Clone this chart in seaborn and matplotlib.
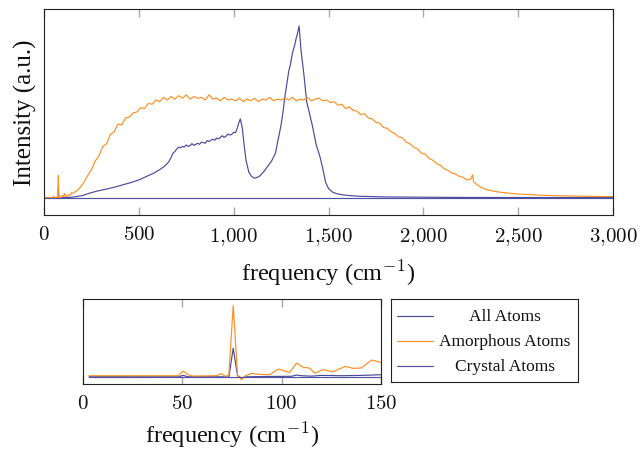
import matplotlib
matplotlib.use("Agg")
import matplotlib.pyplot as plt
from matplotlib.ticker import FixedLocator, FuncFormatter
import seaborn as sns

# ---- spectra (intensity in arbitrary units) ----
all_freq = [3, 20, 40, 48, 50.4, 53, 60, 72, 73.4, 75.6, 77.8, 79.8, 82, 90, 100, 105,
            107.5, 110, 115, 120, 130, 140, 145, 150,
            170, 200, 240, 280, 330, 380, 420, 460, 500, 540, 580, 610, 630, 640, 650,
            660, 670, 680, 690, 700, 710, 720, 730, 740, 750, 760, 770, 780, 790, 800,
            810, 820, 830, 840, 850, 860, 870, 880, 890, 900, 910, 920, 930, 940, 950,
            960, 970, 980, 990, 1000, 1010, 1020, 1028, 1035, 1045, 1055, 1065, 1080,
            1095, 1110, 1125, 1140, 1160, 1180, 1200, 1220, 1240, 1250, 1260, 1270, 1280,
            1290, 1300, 1310, 1320, 1330, 1335, 1345, 1355, 1370, 1385, 1400, 1415, 1435,
            1455, 1470, 1485, 1500, 1520, 1540, 1570, 1600, 1660, 1800, 2200, 3000]
all_int = [0.0011, 0.0011, 0.0010, 0.0010, 0.0036, 0.0010, 0.0011, 0.0010, 0.0, 0.0527,
           0.0030, -0.0010, 0.0010, 0.0015, 0.0018, 0.0020, 0.0042, 0.0030, 0.0022,
           0.0036, 0.0030, 0.0036, 0.0042, 0.0048,
           0.008, 0.013, 0.028, 0.040, 0.052, 0.065, 0.078, 0.090, 0.105, 0.125, 0.145,
           0.165, 0.180, 0.190, 0.200, 0.215, 0.235, 0.260, 0.270, 0.285, 0.295, 0.292,
           0.300, 0.296, 0.308, 0.300, 0.304, 0.316, 0.306, 0.312, 0.318, 0.312, 0.325,
           0.322, 0.318, 0.334, 0.328, 0.336, 0.342, 0.336, 0.348, 0.344, 0.352, 0.362,
           0.352, 0.360, 0.372, 0.366, 0.370, 0.382, 0.380, 0.410, 0.440, 0.460, 0.410,
           0.310, 0.220, 0.150, 0.125, 0.115, 0.120, 0.130, 0.155, 0.185, 0.215, 0.260,
           0.370, 0.425, 0.500, 0.590, 0.660, 0.735, 0.780, 0.845, 0.880, 0.930, 0.950,
           1.000, 0.860, 0.720, 0.560, 0.490, 0.420, 0.310, 0.240, 0.170, 0.090, 0.055,
           0.035, 0.026, 0.019, 0.015, 0.010, 0.006, 0.003, 0.002]

amo_freq = [3, 20, 40, 48, 50.4, 53, 55.4, 67, 69.7, 71.7, 73.4, 75.6, 77.8, 79.8, 81.8,
            84.8, 89, 94, 98.3, 104, 107.5, 111, 114, 116.7, 121, 126, 131.9, 136, 140,
            145.3, 150,
            170, 190, 210, 230, 250, 270, 290, 310, 330, 350, 370, 390, 410, 430, 450,
            470, 490, 510, 530, 550, 570, 590, 610, 630, 650, 670, 690, 710, 730, 750,
            770, 790, 810, 830, 850, 870, 890, 910, 930, 950, 970, 990, 1010, 1030, 1050,
            1070, 1090, 1110, 1130, 1150, 1170, 1190, 1210, 1230, 1250, 1270, 1290, 1310,
            1330, 1350, 1370, 1390, 1410, 1430, 1450, 1470, 1490, 1510, 1530, 1550, 1570,
            1590, 1610, 1630, 1650, 1670, 1690, 1710, 1730, 1750, 1770, 1790, 1810, 1830,
            1850, 1870, 1890, 1910, 1930, 1950, 1970, 1990, 2010, 2030, 2050, 2070, 2090,
            2110, 2130, 2150, 2170, 2190, 2210, 2230, 2250, 2260, 2265, 2280, 2300, 2330,
            2360, 2400, 2450, 2500, 2600, 2700, 2800, 2900, 3000]
amo_int = [0.0030, 0.0030, 0.0030, 0.0030, 0.0114, 0.0048, 0.0024, 0.0030, 0.0066,
           0.0018, 0.0042, 0.1300, 0.0042, -0.0043, 0.0030, 0.0072, 0.0054, 0.0048,
           0.0151, 0.0090, 0.0260, 0.0180, 0.0169, 0.0078, 0.0139, 0.0102, 0.0199,
           0.0163, 0.0170, 0.0314, 0.0272,
           0.040, 0.060, 0.090, 0.130, 0.165, 0.215, 0.245, 0.300, 0.315, 0.370, 0.385,
           0.430, 0.425, 0.465, 0.470, 0.495, 0.500, 0.525, 0.520, 0.550, 0.545, 0.570,
           0.560, 0.585, 0.570, 0.590, 0.575, 0.595, 0.580, 0.600, 0.575, 0.590, 0.580,
           0.585, 0.570, 0.600, 0.575, 0.580, 0.565, 0.585, 0.570, 0.575, 0.565, 0.580,
           0.560, 0.575, 0.565, 0.580, 0.560, 0.575, 0.570, 0.585, 0.565, 0.575, 0.570,
           0.580, 0.570, 0.585, 0.565, 0.575, 0.570, 0.585, 0.565, 0.575, 0.580, 0.565,
           0.570, 0.555, 0.560, 0.540, 0.545, 0.520, 0.530, 0.510, 0.505, 0.485, 0.490,
           0.465, 0.460, 0.440, 0.435, 0.410, 0.405, 0.385, 0.375, 0.355, 0.350, 0.325,
           0.315, 0.295, 0.285, 0.260, 0.255, 0.230, 0.220, 0.200, 0.190, 0.170, 0.160,
           0.145, 0.140, 0.125, 0.120, 0.105, 0.110, 0.135, 0.095, 0.080, 0.065, 0.050,
           0.042, 0.034, 0.028, 0.023, 0.017, 0.013, 0.011, 0.009, 0.008]

cry_freq = [3, 500, 1000, 1500, 2000, 2500, 3000]
cry_int = [0.0, 0.0, 0.0, 0.0, 0.0, 0.0, 0.0]

series_labels = ["All Atoms", "Amorphous Atoms", "Crystal Atoms"]
main_ticks = [0, 500, 1000, 1500, 2000, 2500, 3000]
zoom_ticks = [0, 50, 100, 150]

colors = ["#4a4a9c", "#fb9022", "#5050a4"]

sns.set_theme(style="white")
plt.rcParams["font.family"] = ["Liberation Serif", "DejaVu Serif"]
plt.rcParams["mathtext.fontset"] = "cm"

W, H = 641, 452
fig = plt.figure(figsize=(W / 100, H / 100), dpi=100)


def px_axes(l, t, r, b):
    return fig.add_axes([l / W, 1 - b / H, (r - l) / W, (b - t) / H])


ax_main = px_axes(44, 10, 613, 216)
ax_zoom = px_axes(83, 300, 381, 385)
ax_leg = px_axes(391, 300, 578, 383)

data = [(all_freq, all_int), (amo_freq, amo_int), (cry_freq, cry_int)]
for ax in (ax_main, ax_zoom):
    for (f, v), c, lab in zip(data, colors, series_labels):
        sns.lineplot(x=f, y=v, ax=ax, color=c, linewidth=0.85, estimator=None,
                     sort=False, legend=False, label=lab)


def num_fmt(v, pos):
    s = f"{int(v):,}".replace(",", "{,}")
    return f"${s}$"


for ax, ticks, xlim, ylim, lpad in ((ax_main, main_ticks, (0, 3000), (-0.099, 1.099), 7),
                                    (ax_zoom, zoom_ticks, (0, 150), (-0.012, 0.142), 4)):
    ax.set_xlim(*xlim)
    ax.set_ylim(*ylim)
    ax.xaxis.set_major_locator(FixedLocator(ticks))
    ax.xaxis.set_major_formatter(FuncFormatter(num_fmt))
    ax.set_yticks([])
    ax.tick_params(axis="x", which="major", direction="in", top=True, bottom=True,
                   labeltop=False, length=5.5, width=1.0, color="#a8a8a8",
                   labelsize=15, pad=7, labelcolor="#111111")
    for sp in ax.spines.values():
        sp.set_visible(True)
        sp.set_color("#222222")
        sp.set_linewidth(0.8)
    ax.set_xlabel("frequency (cm$^{-1}$)", fontsize=17.5, color="#111111", labelpad=lpad)
    ax.set_ylabel("")

ax_main.set_ylabel("Intensity (a.u.)", fontsize=18, color="#111111", labelpad=5)

# legend panel
ax_leg.set_xlim(0, 1)
ax_leg.set_ylim(0, 1)
ax_leg.set_xticks([])
ax_leg.set_yticks([])
for sp in ax_leg.spines.values():
    sp.set_visible(True)
    sp.set_color("#222222")
    sp.set_linewidth(0.8)
for c, lab, yy in zip(colors, series_labels, [0.795, 0.498, 0.196]):
    ax_leg.plot([0.034, 0.226], [yy, yy], color=c, linewidth=0.85)
    ax_leg.text(0.61, yy, lab, ha="center", va="center", fontsize=12.5, color="#111111")

fig.savefig("out.png", dpi=100)
